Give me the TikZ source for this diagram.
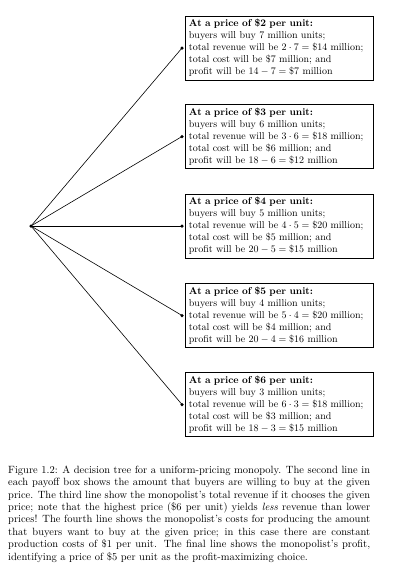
\documentclass[tikz,border=0pt]{standalone}
\begin{document}
\begin{tikzpicture}[x=1pt,y=-1pt,
  payoff/.style={draw,line width=0.8pt,anchor=west,align=left,text width=181pt,inner sep=3.5pt,font=\fontsize{10}{11.9}\selectfont},
  branch/.style={line width=0.6pt},
  dotmark/.style={circle,fill,inner sep=0pt,minimum size=3.5pt}]
\useasboundingbox (0,0) rectangle (402,571);
\node[dotmark] (root) at (31,226) {};
\node[payoff] (b2) at (185,48) {\textbf{At a price of \$2 per unit:}\\buyers will buy 7 million units;\\total revenue will be $2\cdot 7=\$14$ million;\\total cost will be \$7 million; and\\profit will be $14-7=\$7$ million};
\node[payoff] (b3) at (185,136.5) {\textbf{At a price of \$3 per unit:}\\buyers will buy 6 million units;\\total revenue will be $3\cdot 6=\$18$ million;\\total cost will be \$6 million; and\\profit will be $18-6=\$12$ million};
\node[payoff] (b4) at (185,226) {\textbf{At a price of \$4 per unit:}\\buyers will buy 5 million units;\\total revenue will be $4\cdot 5=\$20$ million;\\total cost will be \$5 million; and\\profit will be $20-5=\$15$ million};
\node[payoff] (b5) at (185,315.5) {\textbf{At a price of \$5 per unit:}\\buyers will buy 4 million units;\\total revenue will be $5\cdot 4=\$20$ million;\\total cost will be \$4 million; and\\profit will be $20-4=\$16$ million};
\node[payoff] (b6) at (185,404.5) {\textbf{At a price of \$6 per unit:}\\buyers will buy 3 million units;\\total revenue will be $6\cdot 3=\$18$ million;\\total cost will be \$3 million; and\\profit will be $18-3=\$15$ million};
\foreach \b in {b2,b3,b4,b5,b6}{
  \node[dotmark] (d\b) at ([xshift=-3pt]\b.west) {};
  \draw[branch] (root.center) -- (d\b.center);
}
\node[anchor=north west,inner sep=0pt,text width=362pt,align=justify,font=\fontsize{10.5}{12.4}\selectfont] (cap) at (8,465.5) {Figure 1.2: A decision tree for a uniform-pricing monopoly. The second line in\linebreak
each payoff box shows the amount that buyers are willing to buy at the given\linebreak
price. The third line show the monopolist's total revenue if it chooses the given\linebreak
price; note that the highest price (\$6 per unit) yields \emph{less} revenue than lower\linebreak
prices! The fourth line shows the monopolist's costs for producing the amount\linebreak
that buyers want to buy at the given price; in this case there are constant\linebreak
production costs of \$1 per unit. The final line shows the monopolist's profit,\linebreak
identifying a price of \$5 per unit as the profit-maximizing choice.};
\end{tikzpicture}
\end{document}
